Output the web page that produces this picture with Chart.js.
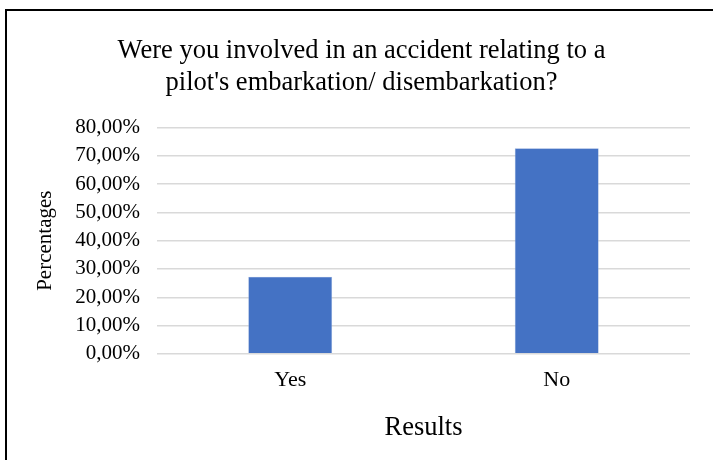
<!DOCTYPE html>
<html>
<head>
<meta charset="utf-8">
<script src="https://cdn.jsdelivr.net/npm/chart.js@4"></script>
<style>
  body { margin: 0; background: #fff; }
  #wrap { position: relative; width: 713px; height: 460px; }
  #frame { position: absolute; left: 5px; top: 9px; right: -10px; bottom: -10px;
           border-left: 2px solid #000; border-top: 2px solid #000; }
  canvas { position: absolute; left: 0; top: 0; }
</style>
</head>
<body>
<div id="wrap">
  <div id="frame"></div>
  <canvas id="chart" width="713" height="460"></canvas>
</div>
<script>
const labels = ['Yes', 'No'];
const percentages = [27.27, 72.73];
const titleLines = ["Were you involved in an accident relating to a", "pilot's embarkation/ disembarkation?"];

const serif = "'Liberation Serif', 'Times New Roman', serif";

new Chart(document.getElementById('chart'), {
  type: 'bar',
  data: {
    labels,
    datasets: [{
      data: percentages,
      backgroundColor: '#4472c4',
      borderColor: '#9fb5de',
      borderWidth: 0.6,
      categoryPercentage: 1,
      barPercentage: 0.315
    }]
  },
  options: {
    responsive: false,
    animation: false,
    layout: { padding: { left: 33, right: 23, top: 35, bottom: 16 } },
    plugins: {
      legend: { display: false },
      tooltip: { enabled: false },
      title: {
        display: true,
        text: titleLines,
        color: '#000',
        font: { family: serif, size: 26.5, weight: 'normal', lineHeight: 1.2 },
        padding: { top: 0, bottom: 29 }
      }
    },
    scales: {
      x: {
        grid: { display: false },
        border: { display: false },
        ticks: { color: '#000', font: { family: serif, size: 22, lineHeight: 1.2 }, padding: 5 },
        title: {
          display: true, text: 'Results', color: '#000',
          font: { family: serif, size: 26.5, lineHeight: 1.2 }, padding: { top: 14, bottom: 0 }
        }
      },
      y: {
        min: 0, max: 80,
        ticks: {
          stepSize: 10, autoSkip: false, color: '#000', padding: 17,
          font: { family: serif, size: 21, lineHeight: 1.2 },
          callback: v => v.toFixed(2).replace('.', ',') + '%'
        },
        grid: { color: '#d9d9d9', lineWidth: 1.5, drawTicks: false },
        border: { display: false },
        title: {
          display: true, text: 'Percentages', color: '#000',
          font: { family: serif, size: 21, lineHeight: 1.2 }, padding: { top: 0, bottom: 0 }
        }
      }
    }
  }
});
</script>
</body>
</html>
